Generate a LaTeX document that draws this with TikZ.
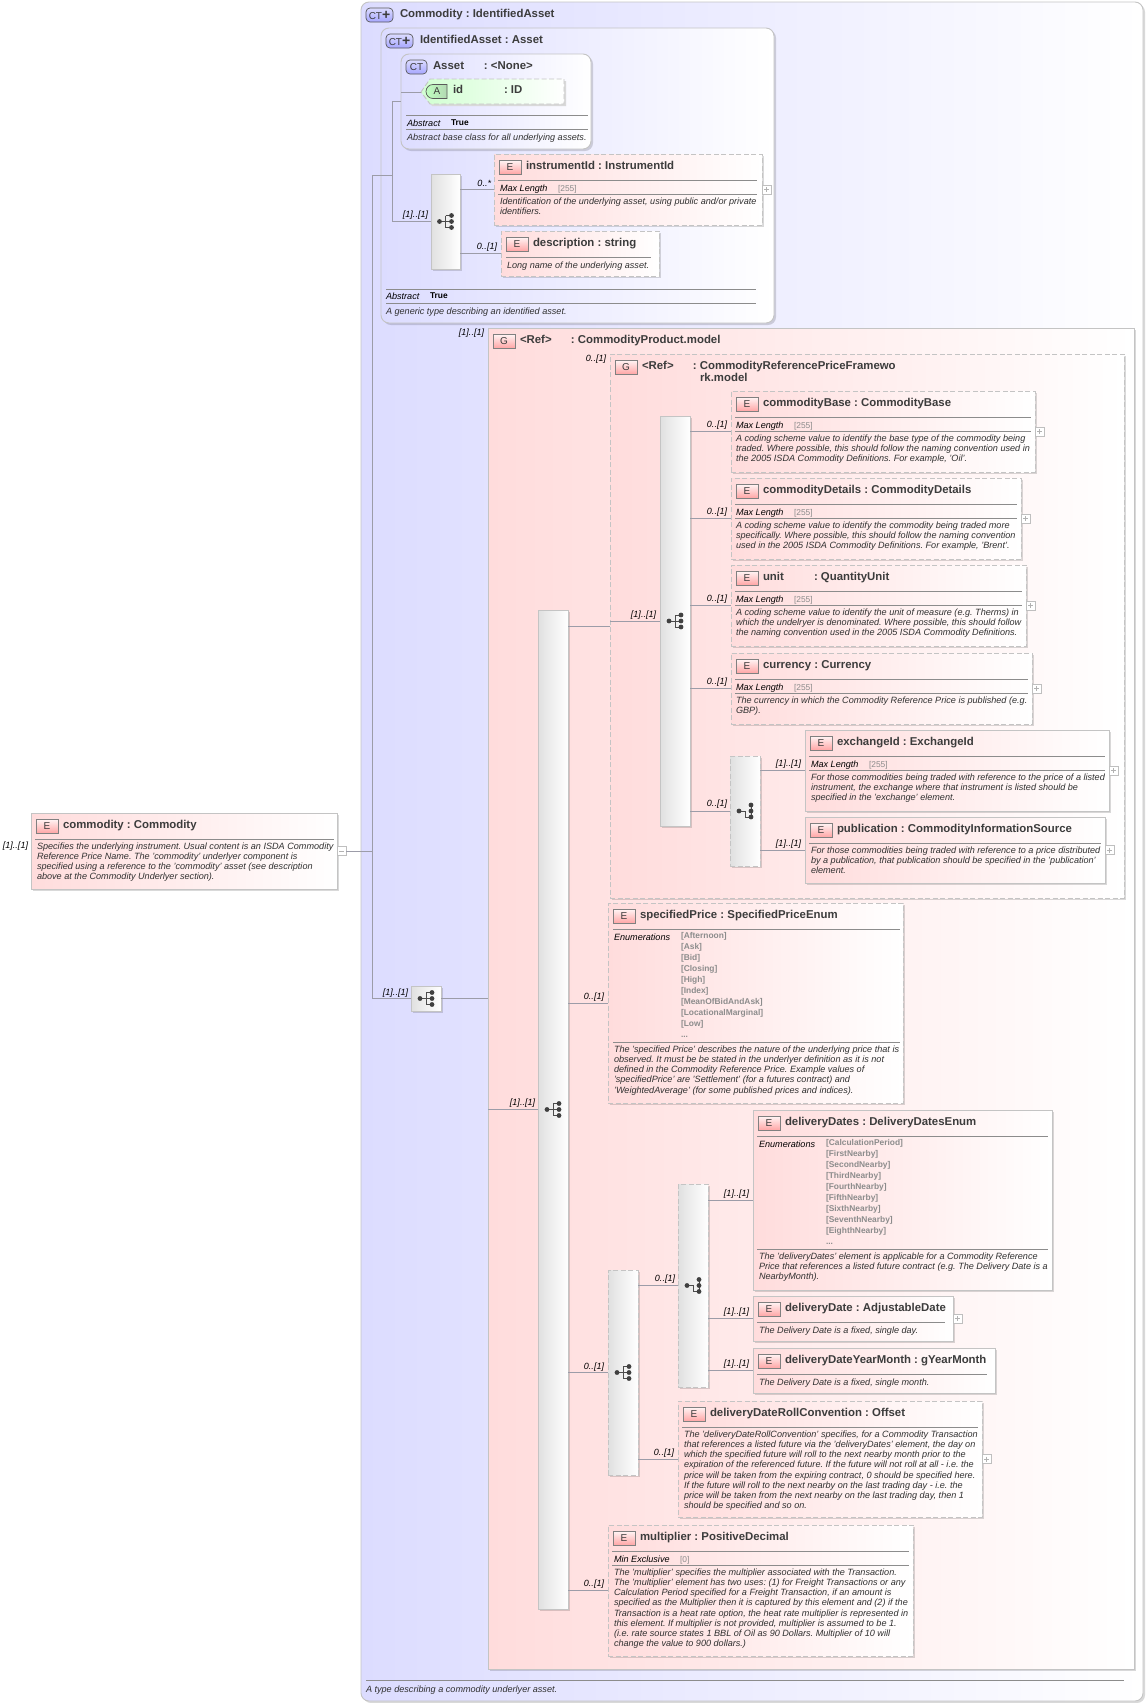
\documentclass[tikz,border=0pt]{standalone}
\usepackage{fontspec}
\setmainfont{Liberation Sans}
\usetikzlibrary{positioning}
\usetikzlibrary{shadows}
\usetikzlibrary{shapes.misc}
\definecolor{lav}{HTML}{DCDCFF}
\definecolor{pinkfill}{HTML}{FFDCDC}
\definecolor{edgegrey}{HTML}{C4C4C4}
\definecolor{connline}{HTML}{9C9CA8}
\definecolor{titlegrey}{HTML}{3C3C3C}
\definecolor{docgrey}{HTML}{303030}
\definecolor{valgrey}{HTML}{8C8C8C}
\tikzset{
  basebox/.style = {anchor=north west, inner sep=0pt, outer sep=0pt, line width=.9pt, draw=edgegrey,
    drop shadow={shadow xshift=2pt, shadow yshift=-2pt, fill=black, opacity=.15}},
  dashpat/.style = {dash pattern=on 5pt off 2.5pt},
  elemsolid/.style = {basebox, left color=pinkfill, right color=white},
  elemdash/.style = {elemsolid, dashpat},
  ctbox/.style = {basebox, rounded corners=8pt, left color=lav, right color=white},
  seqbox/.style = {basebox, left color=black!12, right color=white},
  seqdash/.style = {seqbox, dashpat},
  ebadge/.style = {anchor=north west, inner sep=0pt, outer sep=0pt, minimum width=22pt, minimum height=14pt,
    draw=black!50, line width=.6pt, top color=white!85!pink, bottom color=red!35!white,
    font=\fontsize{10}{10}\selectfont, text=titlegrey},
  ctbadge/.style = {anchor=north west, inner sep=0pt, outer sep=0pt, minimum width=21pt, minimum height=14pt,
    rounded corners=4pt, draw=black!65, line width=.7pt, top color=lav, bottom color=blue!35!white,
    font=\fontsize{10}{10}\selectfont, text=titlegrey},
  ctplus/.style = {ctbadge, minimum width=27pt},
  abadge/.style = {rounded rectangle, rounded rectangle right arc=none, anchor=west, inner sep=0pt, outer sep=0pt,
    minimum width=21pt, minimum height=14pt, draw=black!65, line width=.7pt,
    left color=green!25!white, right color=green!50!black!30!white,
    font=\fontsize{10}{10}\selectfont, text=titlegrey},
  eltitle/.style = {anchor=west, inner sep=0pt, outer sep=0pt, text height=8pt, text depth=4pt,
    font=\fontsize{11.4}{12}\bfseries, text=titlegrey},
  doc/.style = {anchor=north west, inner sep=0pt, outer sep=0pt, align=left, yshift=4pt, text=docgrey,
    font=\fontsize{9.1}{10.1}\itshape, execute at begin node={\rule{0pt}{7pt}}},
  facet/.style = {anchor=base west, inner sep=0pt, outer sep=0pt, yshift=-3pt, text=black,
    font=\fontsize{9.1}{10.1}\itshape},
  factval/.style = {anchor=base west, inner sep=0pt, outer sep=0pt, yshift=-3pt, text=valgrey,
    font=\fontsize{8.4}{10}\selectfont},
  truev/.style = {anchor=base west, inner sep=0pt, outer sep=0pt, yshift=-3pt, text=black,
    font=\fontsize{8.4}{10}\bfseries},
  enumv/.style = {anchor=north west, inner sep=0pt, outer sep=0pt, align=left, yshift=4pt, text=valgrey,
    font=\fontsize{8.4}{11}\bfseries, execute at begin node={\rule{0pt}{7pt}}},
  occ/.style = {anchor=east, inner sep=0pt, outer sep=0pt, text=black, font=\fontsize{9}{10}\itshape},
  conn/.style = {draw=connline, line width=.7pt},
  sepline/.style = {draw=black!45, line width=.6pt},
  plusbox/.style = {inner sep=0pt, outer sep=0pt, minimum size=9pt, draw=black!25, fill=white, line width=.5pt,
    path picture={\draw[black!30, line width=.5pt] (path picture bounding box.west) ++(2pt,0) -- ++(5pt,0);
      \draw[black!30, line width=.5pt] (path picture bounding box.north) ++(0,-2pt) -- ++(0,-5pt);}},
  minusbox/.style = {inner sep=0pt, outer sep=0pt, minimum size=9pt, draw=black!25, fill=white, line width=.5pt,
    path picture={\draw[black!30, line width=.5pt] (path picture bounding box.west) ++(2pt,0) -- ++(5pt,0);}},
  seqicon/.pic = {
    \draw[black!70, line width=1pt] (-6,0) -- (0,0) (0,-6) -- (0,6) (0,-6) -- (6,-6) (0,0) -- (6,0) (0,6) -- (6,6);
    \foreach \py in {-6,0,6} {\fill[black!75] (6,\py) circle (2.4pt);}
    \fill[black!75] (-6,0) circle (2.4pt);
  },
  choiceicon/.pic = {
    \draw[black!70, line width=1pt] (-6,0) -- (0,0) -- (0,6) -- (6,6) (6,-6) -- (6,6);
    \foreach \py in {-6,0,6} {\fill[black!75] (6,\py) circle (2.4pt);}
    \fill[black!75] (-6,0) circle (2.4pt);
  },
}
% box from its corners
\newcommand{\mkbox}[6]{\node[#2, minimum width={(#5-#3)*1pt}, minimum height={(#6-#4)*1pt}] (#1) at (#3,#4) {};}
% box with its badge and title
\newcommand{\elemnode}[8][E]{\mkbox{#2}{#3}{#4}{#5}{#6}{#7}
  \node[ebadge, below right=6pt and 5pt of #2.north west] (#2B) {#1};
  \node[eltitle, right=5pt of #2B] (#2T) {#8};}
\newcommand{\nm}[2]{\makebox[#1pt][l]{#2}}
\newcommand{\ctplustext}{CT{\fontsize{14}{10}\bfseries +}}
\begin{document}
\frenchspacing
\begin{tikzpicture}[x=1pt,y=-1pt]
\useasboundingbox (0,0) rectangle (1148,1703);
% root element
\elemnode{commodity}{elemsolid}{31}{813}{337}{889}{commodity : Commodity}
\node[minusbox, right=0pt of commodity] (commodityX) {};
\node[occ] (commodityO) at (28,846) {[1]..[1]};
\node[doc] (commodityD) at (37,847) {Specifies the underlying instrument. Usual content is an ISDA Commodity\\Reference Price Name. The 'commodity' underlyer component is\\specified using a reference to the 'commodity' asset (see description\\above at the Commodity Underlyer section).};
\draw[sepline] (35,839) -- (334,839);
% complex types
\mkbox{outer}{ctbox}{361}{2}{1143}{1701}
\node[ctplus, below right=6pt and 5pt of outer.north west] (outerB) {\ctplustext};
\node[eltitle, right=7pt of outerB] (outerT) {Commodity : IdentifiedAsset};
\mkbox{ident}{ctbox}{381}{28}{774}{323}
\node[ctplus, below right=6pt and 5pt of ident.north west] (identB) {\ctplustext};
\node[eltitle, right=7pt of identB] (identT) {IdentifiedAsset : Asset};
\mkbox{asset}{ctbox}{401}{54}{591}{149}
\node[ctbadge, below right=6pt and 5pt of asset.north west] (assetB) {CT};
\node[eltitle, right=6pt of assetB] (assetT) {\nm{51}{Asset}: <None>};
% attribute id
\fill[black!15] (423,94) -- (432,81) -- (566,81) -- (566,106) -- (432,106) -- cycle;
\draw[edgegrey, line width=.9pt, dashpat, left color=green!18!white, right color=white] (421,92) coordinate (idtip) -- (430,79) -- (564,79) -- (564,104) -- (430,104) -- cycle;
\node[abadge] (idB) at (426,91.5) {A};
\node[eltitle, right=6pt of idB] (idT) {\nm{51}{id}: ID};
\draw[sepline] (406,115) -- (588,115);
\node[facet] (assetF) at (407,123) {Abstract};
\node[truev] (assetV) at (451,122) {True};
\draw[sepline] (406,129) -- (588,129);
\node[doc] (assetD) at (407,137) {Abstract base class for all underlying assets.};
% first sequence
\mkbox{seqa}{seqbox}{431}{174}{460}{269}
\pic at (seqa.center) {seqicon};
\node[occ] (seqaO) at (428,215) {[1]..[1]};
\elemnode{instr}{elemdash}{494}{154}{762}{225}{instrumentId : InstrumentId}
\node[plusbox, right=0pt of instr] (instrX) {};
\node[occ] (instrO) at (491,183) {0..*};
\draw[sepline] (498,180) -- (757,180);
\node[facet] (instrF) at (500,188) {Max Length};
\node[factval] (instrV) at (558,188) {[255]};
\draw[sepline] (498,194) -- (757,194);
\node[doc] (instrD) at (500,202) {Identification of the underlying asset, using public and/or private\\identifiers.};
\elemnode{descr}{elemdash}{501}{231}{659}{276}{description : string}
\node[occ] (descrO) at (497,247) {0..[1]};
\draw[sepline] (506,257) -- (651,257);
\node[doc] (descrD) at (507,265) {Long name of the underlying asset.};
\draw[sepline] (386,289) -- (756,289);
\node[facet] (identF) at (386,296) {Abstract};
\node[truev] (identV) at (430,295) {True};
\draw[sepline] (386,303) -- (756,303);
\node[doc] (identD) at (386,311) {A generic type describing an identified asset.};
% outer sequence
\mkbox{seqb}{seqbox}{411}{986}{441}{1011}
\pic at (seqb.center) {seqicon};
\node[occ] (seqbO) at (408,993) {[1]..[1]};
\node[occ] (modelO) at (484,333) {[1]..[1]};
\elemnode[G]{model}{elemsolid}{488}{328}{1134}{1669}{\nm{51}{<Ref>}: CommodityProduct.model}
\mkbox{seqc}{seqbox}{538}{610}{568}{1609}
\pic at (seqc.center) {seqicon};
\node[occ] (seqcO) at (535,1103) {[1]..[1]};
% group of the reference price
\node[occ] (frameO) at (606,359) {0..[1]};
\elemnode[G]{frame}{elemdash}{610}{354}{1124}{898}{\nm{51}{<Ref>}: CommodityReferencePriceFramewo}
\node[eltitle] (frameT2) at (700,379) {rk.model};
\mkbox{seqd}{seqbox}{660}{416}{690}{826}
\pic at (seqd.center) {seqicon};
\node[occ] (seqdO) at (656,615) {[1]..[1]};
\elemnode{cbase}{elemdash}{731}{391}{1035}{472}{commodityBase : CommodityBase}
\node[plusbox, right=0pt of cbase] (cbaseX) {};
\node[occ] (cbaseO) at (727,425) {0..[1]};
\draw[sepline] (735,417) -- (1031,417);
\node[facet] (cbaseF) at (736,425) {Max Length};
\node[factval] (cbaseV) at (794,425) {[255]};
\draw[sepline] (735,431) -- (1031,431);
\node[doc] (cbaseD) at (736,439) {A coding scheme value to identify the base type of the commodity being\\traded. Where possible, this should follow the naming convention used in\\the 2005 ISDA Commodity Definitions. For example, 'Oil'.};
\elemnode{cdet}{elemdash}{731}{478}{1021}{559}{commodityDetails : CommodityDetails}
\node[plusbox, right=0pt of cdet] (cdetX) {};
\node[occ] (cdetO) at (727,512) {0..[1]};
\draw[sepline] (735,504) -- (1017,504);
\node[facet] (cdetF) at (736,512) {Max Length};
\node[factval] (cdetV) at (794,512) {[255]};
\draw[sepline] (735,518) -- (1017,518);
\node[doc] (cdetD) at (736,526) {A coding scheme value to identify the commodity being traded more\\specifically. Where possible, this should follow the naming convention\\used in the 2005 ISDA Commodity Definitions. For example, 'Brent'.};
\elemnode{unit}{elemdash}{731}{565}{1026}{646}{\nm{51}{unit}: QuantityUnit}
\node[plusbox, right=0pt of unit] (unitX) {};
\node[occ] (unitO) at (727,599) {0..[1]};
\draw[sepline] (735,591) -- (1022,591);
\node[facet] (unitF) at (736,599) {Max Length};
\node[factval] (unitV) at (794,599) {[255]};
\draw[sepline] (735,605) -- (1022,605);
\node[doc] (unitD) at (736,613) {A coding scheme value to identify the unit of measure (e.g. Therms) in\\which the undelryer is denominated. Where possible, this should follow\\the naming convention used in the 2005 ISDA Commodity Definitions.};
\elemnode{curr}{elemdash}{731}{653}{1032}{724}{currency : Currency}
\node[plusbox, right=0pt of curr] (currX) {};
\node[occ] (currO) at (727,682) {0..[1]};
\draw[sepline] (735,679) -- (1028,679);
\node[facet] (currF) at (736,687) {Max Length};
\node[factval] (currV) at (794,687) {[255]};
\draw[sepline] (735,693) -- (1028,693);
\node[doc] (currD) at (736,701) {The currency in which the Commodity Reference Price is published (e.g.\\GBP).};
% exchange or publication
\mkbox{choicea}{seqdash}{730}{756}{760}{866}
\pic at (choicea.center) {choiceicon};
\node[occ] (choiceaO) at (727,804) {0..[1]};
\elemnode{exch}{elemsolid}{805}{730}{1109}{811}{exchangeId : ExchangeId}
\node[plusbox, right=0pt of exch] (exchX) {};
\node[occ] (exchO) at (801,764) {[1]..[1]};
\draw[sepline] (809,756) -- (1105,756);
\node[facet] (exchF) at (811,764) {Max Length};
\node[factval] (exchV) at (869,764) {[255]};
\draw[sepline] (809,770) -- (1105,770);
\node[doc] (exchD) at (811,778) {For those commodities being traded with reference to the price of a listed\\instrument, the exchange where that instrument is listed should be\\specified in the 'exchange' element.};
\elemnode{publ}{elemsolid}{805}{817}{1105}{883}{publication : CommodityInformationSource}
\node[plusbox, right=0pt of publ] (publX) {};
\node[occ] (publO) at (801,844) {[1]..[1]};
\draw[sepline] (809,843) -- (1101,843);
\node[doc] (publD) at (811,851) {For those commodities being traded with reference to a price distributed\\by a publication, that publication should be specified in the 'publication'\\element.};
% specified price
\elemnode{price}{elemdash}{608}{903}{903}{1103}{specifiedPrice : SpecifiedPriceEnum}
\node[occ] (priceO) at (604,997) {0..[1]};
\draw[sepline] (613,929) -- (900,929);
\node[facet] (priceF) at (614,937) {Enumerations};
\node[enumv] (priceV) at (681,936) {[Afternoon]\\{}[Ask]\\{}[Bid]\\{}[Closing]\\{}[High]\\{}[Index]\\{}[MeanOfBidAndAsk]\\{}[LocationalMarginal]\\{}[Low]\\...};
\draw[sepline] (613,1042) -- (900,1042);
\node[doc] (priceD) at (614,1050) {The 'specified Price' describes the nature of the underlying price that is\\observed. It must be be stated in the underlyer definition as it is not\\defined in the Commodity Reference Price. Example values of\\'specifiedPrice' are 'Settlement' (for a futures contract) and\\'WeightedAverage' (for some published prices and indices).};
% delivery
\mkbox{seqe}{seqdash}{608}{1270}{638}{1475}
\pic at (seqe.center) {seqicon};
\node[occ] (seqeO) at (604,1367) {0..[1]};
\mkbox{choiceb}{seqdash}{678}{1184}{708}{1387}
\pic at (choiceb.center) {choiceicon};
\node[occ] (choicebO) at (675,1279) {0..[1]};
\elemnode{ddates}{elemsolid}{753}{1110}{1052}{1290}{deliveryDates : DeliveryDatesEnum}
\node[occ] (ddatesO) at (749,1194) {[1]..[1]};
\draw[sepline] (757,1136) -- (1048,1136);
\node[facet] (ddatesF) at (759,1144) {Enumerations};
\node[enumv] (ddatesV) at (826,1143) {[CalculationPeriod]\\{}[FirstNearby]\\{}[SecondNearby]\\{}[ThirdNearby]\\{}[FourthNearby]\\{}[FifthNearby]\\{}[SixthNearby]\\{}[SeventhNearby]\\{}[EighthNearby]\\...};
\draw[sepline] (757,1249) -- (1048,1249);
\node[doc] (ddatesD) at (759,1257) {The 'deliveryDates' element is applicable for a Commodity Reference\\Price that references a listed future contract (e.g. The Delivery Date is a\\NearbyMonth).};
\elemnode{ddate}{elemsolid}{753}{1296}{953}{1341}{deliveryDate : AdjustableDate}
\node[plusbox, right=0pt of ddate] (ddateX) {};
\node[occ] (ddateO) at (749,1312) {[1]..[1]};
\draw[sepline] (757,1322) -- (945,1322);
\node[doc] (ddateD) at (759,1330) {The Delivery Date is a fixed, single day.};
\elemnode{dmonth}{elemsolid}{753}{1348}{995}{1393}{deliveryDateYearMonth : gYearMonth}
\node[occ] (dmonthO) at (749,1364) {[1]..[1]};
\draw[sepline] (757,1374) -- (987,1374);
\node[doc] (dmonthD) at (759,1382) {The Delivery Date is a fixed, single month.};
\elemnode{droll}{elemdash}{678}{1401}{982}{1517}{deliveryDateRollConvention : Offset}
\node[plusbox, right=0pt of droll] (drollX) {};
\node[occ] (drollO) at (674,1453) {0..[1]};
\draw[sepline] (682,1427) -- (978,1427);
\node[doc] (drollD) at (684,1435) {The 'deliveryDateRollConvention' specifies, for a Commodity Transaction\\that references a listed future via the 'deliveryDates' element, the day on\\which the specified future will roll to the next nearby month prior to the\\expiration of the referenced future. If the future will not roll at all - i.e. the\\price will be taken from the expiring contract, 0 should be specified here.\\If the future will roll to the next nearby on the last trading day - i.e. the\\price will be taken from the next nearby on the last trading day, then 1\\should be specified and so on.};
% multiplier
\elemnode{mult}{elemdash}{608}{1525}{913}{1656}{multiplier : PositiveDecimal}
\node[occ] (multO) at (604,1584) {0..[1]};
\draw[sepline] (612,1551) -- (909,1551);
\node[facet] (multF) at (614,1559) {Min Exclusive};
\node[factval] (multV) at (680,1559) {[0]};
\draw[sepline] (612,1565) -- (909,1565);
\node[doc] (multD) at (614,1573) {The 'multiplier' specifies the multiplier associated with the Transaction.\\The 'multiplier' element has two uses: (1) for Freight Transactions or any\\Calculation Period specified for a Freight Transaction, if an amount is\\specified as the Multiplier then it is captured by this element and (2) if the\\Transaction is a heat rate option, the heat rate multiplier is represented in\\this element. If multiplier is not provided, multiplier is assumed to be 1.\\(i.e. rate source states 1 BBL of Oil as 90 Dollars. Multiplier of 10 will\\change the value to 900 dollars.)};
\draw[sepline] (366,1680) -- (1124,1680);
\node[doc] (outerD) at (366,1689) {A type describing a commodity underlyer asset.};
% connectors
\coordinate (busa) at (372,851);
\coordinate (busb) at (392,175);
\draw[conn] (commodityX.east) -- (busa);
\draw[conn] (busa |- seqb.west) -- (busa |- ident.west) -- (ident.west -| busb);
\draw[conn] (busb |- asset.west) -- (busb |- seqa.west) -- (seqa.west);
\draw[conn] (busb |- asset.west) -- (asset.west);
\draw[conn] (asset.west |- idtip) -- (idtip);
\draw[conn] (busa |- seqb.west) -- (seqb.west);
\draw[conn] (seqb.east) -- (seqb.east -| model.west);
\draw[conn] (model.west |- seqc.west) -- (seqc.west);
\draw[conn] (seqa.east |- instr.west) -- (instr.west);
\draw[conn] (seqa.east |- descr.west) -- (descr.west);
\draw[conn] (seqc.east |- frame.west) -- (frame.west);
\draw[conn] (frame.west |- seqd.west) -- (seqd.west);
\foreach \kid in {cbase,cdet,unit,curr} {\draw[conn] (seqd.east |- \kid.west) -- (\kid.west);}
\draw[conn] (seqd.east |- choicea.west) -- (choicea.west);
\foreach \kid in {exch,publ} {\draw[conn] (choicea.east |- \kid.west) -- (\kid.west);}
\foreach \kid in {price,seqe,mult} {\draw[conn] (seqc.east |- \kid.west) -- (\kid.west);}
\draw[conn] (seqe.east |- choiceb.west) -- (choiceb.west);
\draw[conn] (seqe.east |- droll.west) -- (droll.west);
\foreach \kid in {ddates,ddate,dmonth} {\draw[conn] (choiceb.east |- \kid.west) -- (\kid.west);}
\end{tikzpicture}
\end{document}
